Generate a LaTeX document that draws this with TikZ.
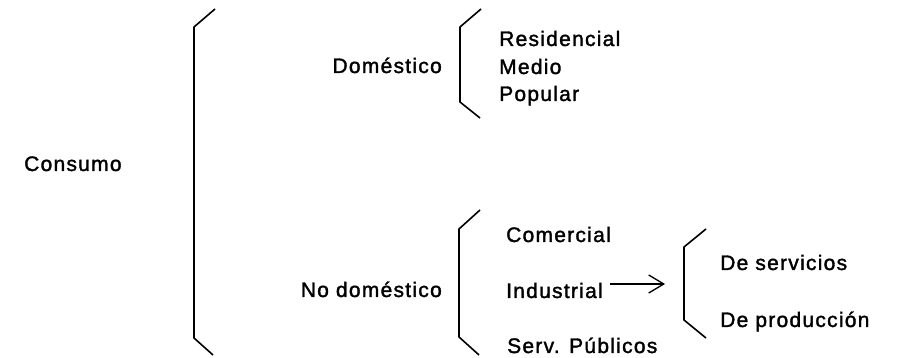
\documentclass[tikz,border=0pt]{standalone}
\usepackage{fontspec}
\setmainfont{Liberation Sans}[LetterSpace=6,FakeBold=1.6]
\usetikzlibrary{arrows.meta}

\begin{document}
\begin{tikzpicture}[x=1pt,y=-1pt]

\tikzset{term/.style = {inner sep=0pt, font=\fontsize{21}{24}\selectfont}}
\tikzset{brace/.style = {line width=1.6pt, line join=round}}
\tikzset{edge/.style = {line width=1.3pt, -{Straight Barb[length=15pt,width=18pt,line width=1.3pt]}}}
\useasboundingbox (0,0) rectangle (898,358);

% terms
\node[term, anchor=base west] (consumo) at (24,171) {Consumo};
\node[term, anchor=base east] (domestico) at (442,73) {Doméstico};
\node[term, anchor=base east] (nodomestico) at (442,297) {No doméstico};
\node[term, anchor=base west] (residencial) at (499,46) {Residencial};
\node[term, anchor=base west] (medio) at (499,74) {Medio};
\node[term, anchor=base west] (popular) at (499,101) {Popular};
\node[term, anchor=base west] (comercial) at (506,242) {Comercial};
\node[term, anchor=base west] (industrial) at (506,298) {Industrial};
\node[term, anchor=base west] (servicios) at (507,353) {Serv. Públicos};
\node[term, anchor=base west] (deservicios) at (720,270) {De servicios};
\node[term, anchor=base west] (deproduccion) at (720,327) {De producción};

% braces
\draw[brace] (215,9) -- (194,27) -- (194,338) -- (213,355);
\draw[brace] (481,9) -- (460,27) -- (460,102) -- (480,118);
\draw[brace] (480,210) -- (459,229) -- (459,337) -- (479,355);
\draw[brace] (706,229) -- (684,247) -- (684,320) -- (706,338);

% arrow
\coordinate (subbrace) at (665,284);
\draw[edge] ([xshift=7pt]industrial.east |- subbrace) -- (subbrace);

\end{tikzpicture}
\end{document}
